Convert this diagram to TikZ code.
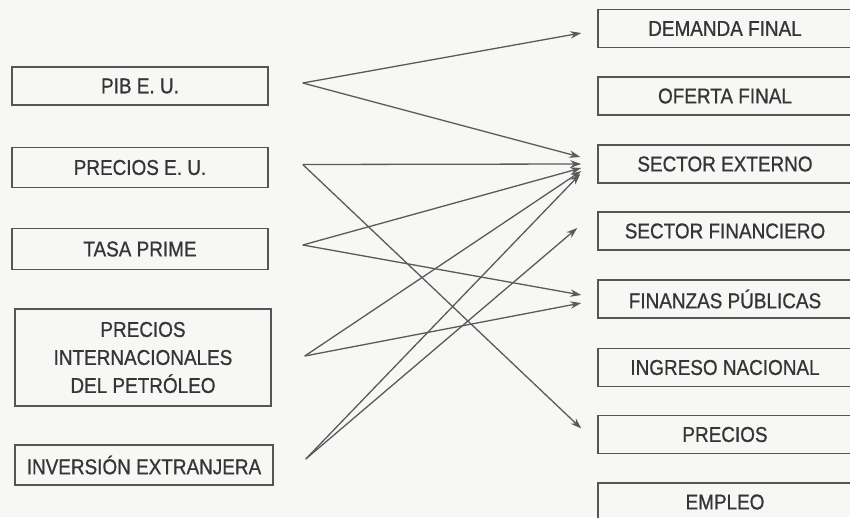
\documentclass[tikz,border=0pt]{standalone}
\usepackage{fontspec}
\setmainfont{Liberation Sans}[FakeStretch=0.88,FakeBold=0.8]
\usetikzlibrary{arrows.meta,calc}
\definecolor{paper}{HTML}{F7F7F6}
\definecolor{ink}{HTML}{555555}
\definecolor{wire}{HTML}{5A5A5A}
\definecolor{txt}{HTML}{353535}
\begin{document}
\begin{tikzpicture}[x=1pt,y=-1pt,
  box/.style={draw=ink, line width=1.5pt, text=txt, inner sep=0pt,
    align=center, minimum height=38pt,
    font=\fontsize{21.5}{28}\selectfont},
  lbox/.style={box, minimum width=256pt},
  rbox/.style={box, minimum width=254pt},
  link/.style={draw=wire, line width=1.3pt,
    -{Stealth[length=11pt,width=7.5pt]}}]
\path[use as bounding box, fill=paper] (0,0) rectangle (850,517);
\clip (0,0) rectangle (850,517);

% causes
\node[lbox] (pib) at (140,86) {PIB E. U.};
\node[lbox, minimum height=40pt] (peu) at (140,167.5) {PRECIOS E. U.};
\node[lbox, minimum height=41pt] (tasa) at (140,249) {TASA PRIME};
\node[lbox, minimum height=97pt] (petro) at (143,357.5)
  {PRECIOS\\INTERNACIONALES\\DEL PETRÓLEO};
\node[lbox, minimum width=258pt, minimum height=40pt] (inv) at (144,465)
  {INVERSIÓN EXTRANJERA};

% affected blocks
\node[rbox] (dem)  at (725,28.5)  {DEMANDA FINAL};
\node[rbox] (ofe)  at (725,96)    {OFERTA FINAL};
\node[rbox] (ext)  at (725,164)   {SECTOR EXTERNO};
\node[rbox] (sfin) at (725,231)   {SECTOR FINANCIERO};
\node[rbox] (pub)  at (725,299)   {FINANZAS PÚBLICAS};
\node[rbox] (ing)  at (725,367.5) {INGRESO NACIONAL};
\node[rbox] (prec) at (725,434.5) {PRECIOS};
\node[rbox] (emp)  at (725,502)   {EMPLEO};

% outgoing points
\coordinate (pib-o)   at ($(pib.east)+(34,-3)$);
\coordinate (peu-o)   at ($(peu.east)+(34,-3)$);
\coordinate (tasa-o)  at ($(tasa.east)+(34,-4)$);
\coordinate (petro-o) at ($(petro.east)+(33,-1.5)$);
\coordinate (inv-o)   at ($(inv.east)+(32,-6)$);

% incoming tips
\coordinate (dem-i)  at ($(dem.west)+(-16,4.5)$);
\coordinate (ext-a)  at ($(ext.west)+(-17,-7)$);
\coordinate (ext-b)  at ($(ext.west)+(-16,0)$);
\coordinate (ext-c)  at ($(ext.west)+(-16,4)$);
\coordinate (ext-d)  at ($(ext.west)+(-16,7)$);
\coordinate (ext-e)  at ($(ext.west)+(-17,10)$);
\coordinate (sfin-i) at ($(sfin.west)+(-20,-3)$);
\coordinate (pub-a)  at ($(pub.west)+(-16,-4)$);
\coordinate (pub-b)  at ($(pub.west)+(-16,4)$);
\coordinate (prec-i) at ($(prec.west)+(-16,-6)$);

% influences
\draw[link] (pib-o) -- (dem-i);
\draw[link] (pib-o) -- (ext-a);
\draw[link] (peu-o) -- (ext-b);
\draw[link] (peu-o) -- (prec-i);
\draw[link] (tasa-o) -- (ext-c);
\draw[link] (tasa-o) -- (pub-a);
\draw[link] (petro-o) -- (ext-d);
\draw[link] (petro-o) -- (pub-b);
\draw[link] (inv-o) -- (ext-e);
\draw[link] (inv-o) -- (sfin-i);
\end{tikzpicture}
\end{document}
